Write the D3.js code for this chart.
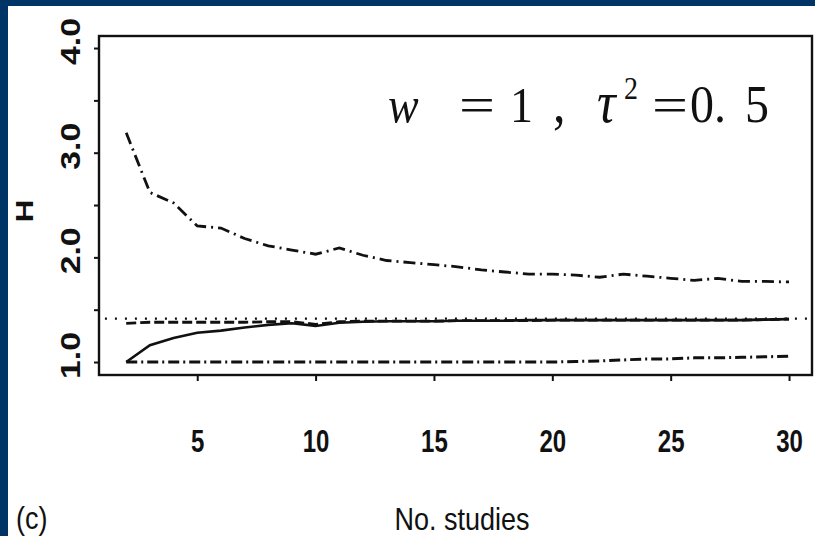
<!DOCTYPE html>
<html><head><meta charset="utf-8">
<script src="https://cdn.jsdelivr.net/npm/d3@7"></script>
<style>
html,body{margin:0;padding:0;background:#003466;}
svg{display:block;}
</style></head>
<body>
<script>
// ---- data ----
const nStudies = [2,3,4,5,6,7,8,9,10,11,12,13,14,15,16,17,18,19,20,21,22,23,24,25,26,27,28,29,30];
const upperH  = [3.19,2.62,2.52,2.30,2.28,2.18,2.11,2.07,2.03,2.09,2.02,1.97,1.95,1.93,1.91,1.88,1.86,1.84,1.84,1.83,1.81,1.84,1.82,1.80,1.78,1.80,1.77,1.77,1.765];
const meanH   = [1.00,1.16,1.23,1.28,1.30,1.33,1.355,1.37,1.345,1.375,1.385,1.39,1.39,1.39,1.395,1.395,1.395,1.40,1.40,1.40,1.40,1.40,1.40,1.40,1.40,1.40,1.40,1.405,1.41];
const medianH = [1.37,1.38,1.38,1.38,1.38,1.38,1.385,1.385,1.36,1.385,1.39,1.39,1.39,1.39,1.395,1.395,1.395,1.395,1.40,1.40,1.40,1.40,1.40,1.40,1.40,1.40,1.40,1.405,1.41];
const lowerH  = [1.00,1.00,1.00,1.00,1.00,1.00,1.00,1.00,1.00,1.00,1.00,1.00,1.00,1.00,1.00,1.00,1.00,1.00,1.00,1.005,1.01,1.02,1.03,1.03,1.04,1.04,1.045,1.05,1.055];
const trueH = 1.414;
const xTicks = [5,10,15,20,25,30];
const yTicks = [1.0,2.0,3.0,4.0];
const yMinorTicks = [1.5,2.5,3.5];

const W = 815, H = 536;
const svg = d3.select("body").append("svg").attr("width", W).attr("height", H);
svg.append("rect").attr("x",8).attr("y",6).attr("width",W-8).attr("height",H-6).attr("fill","#ffffff");

const x = d3.scaleLinear().domain([0.85, 30.97]).range([99, 812]);
const y = d3.scaleLinear().domain([0.876, 4.115]).range([375, 36]);

const line = (vals) => d3.line().x((d,i)=>x(nStudies[i])).y(d=>y(d))(vals);
const sans = "'Liberation Sans',Arial,sans-serif";

// lines
const g = svg.append("g");
g.append("line").attr("x1", x(1.1)).attr("x2", x(30.9)).attr("y1", y(trueH)).attr("y2", y(trueH))
  .attr("stroke","#111").attr("stroke-width",2.2).attr("stroke-dasharray","2,8");
g.append("path").attr("d", line(upperH)).attr("fill","none").attr("stroke","#111")
  .attr("stroke-width",2.8).attr("stroke-dasharray","12,5,2,5");
g.append("path").attr("d", line(lowerH)).attr("fill","none").attr("stroke","#111")
  .attr("stroke-width",3).attr("stroke-dasharray","11,4,2,4");
g.append("path").attr("d", line(medianH)).attr("fill","none").attr("stroke","#111")
  .attr("stroke-width",2.8).attr("stroke-dasharray","10,4");
g.append("path").attr("d", line(meanH)).attr("fill","none").attr("stroke","#111")
  .attr("stroke-width",2.6);

// box
svg.append("rect").attr("x",99).attr("y",36).attr("width",713).attr("height",339)
  .attr("fill","none").attr("stroke","#111").attr("stroke-width",2.4);

// x axis
const xAxis = d3.axisBottom(x).tickValues(xTicks).tickSize(6).tickFormat(d3.format("d"));
const gx = svg.append("g").attr("transform","translate(0,375)").call(xAxis);
gx.select(".domain").remove();
gx.selectAll(".tick line").attr("stroke","#111").attr("stroke-width",2);
gx.selectAll(".tick text").attr("y",0).attr("dy",0).attr("fill","#111")
  .attr("transform","translate(0,77) scale(1,1.3)")
  .style("font-family",sans).style("font-size","24px").style("font-weight","bold");

// y axis
const yAxis = d3.axisLeft(y).tickValues(yTicks.concat(yMinorTicks)).tickSize(5).tickFormat(d3.format(".1f"));
const gy = svg.append("g").attr("transform","translate(99,0)").call(yAxis);
gy.select(".domain").remove();
gy.selectAll(".tick line").attr("stroke","#111").attr("stroke-width",2);
gy.selectAll(".tick text").filter(d=>yMinorTicks.includes(d)).remove();
gy.selectAll(".tick text")
  .attr("x",0).attr("dy",0)
  .attr("transform","translate(-19,-7) rotate(-90) scale(1.25,1)")
  .attr("text-anchor","middle").attr("fill","#111")
  .style("font-family",sans).style("font-size","27px").style("font-weight","bold");

// axis titles
svg.append("text").attr("transform","translate(33,211) rotate(-90) scale(1.3,1)").attr("text-anchor","middle")
  .attr("fill","#111").style("font-family",sans)
  .style("font-size","24px").style("font-weight","bold").text("H");
svg.append("text").attr("transform","translate(462,530) scale(1,1.18)").attr("text-anchor","middle").attr("fill","#111")
  .style("font-family",sans).style("font-size","27px").text("No. studies");
svg.append("text").attr("transform","translate(16,529) scale(1,1.18)").attr("fill","#111")
  .style("font-family",sans).style("font-size","27px").text("(c)");

// annotation
const serif = "'Liberation Serif','Times New Roman',serif";
const ann = [
  {t:"w", x:388, y:122, it:true, fs:46},
  {t:"=", x:459, y:122, it:false, fs:46, tl:36},
  {t:"1", x:510, y:122, it:false, fs:46},
  {t:",", x:553, y:122, it:false, fs:50},
  {t:"τ", x:597, y:122, it:true, fs:52},
  {t:"2", x:624, y:99, it:false, fs:28},
  {t:"=", x:652, y:122, it:false, fs:46, tl:36},
  {t:"0.", x:690, y:122, it:false, fs:48},
  {t:"5", x:745, y:122, it:false, fs:48}
];
ann.forEach(a=>{
  const t = svg.append("text").attr("x",0).attr("y",0)
    .attr("transform",`translate(${a.x},${a.y}) scale(1,1.12)`).attr("fill","#111")
    .style("font-family",serif).style("font-size",a.fs+"px")
    .style("font-style",a.it?"italic":"normal").text(a.t);
  if (a.tl) t.attr("textLength",a.tl).attr("lengthAdjust","spacingAndGlyphs");
});
</script>
</body></html>
